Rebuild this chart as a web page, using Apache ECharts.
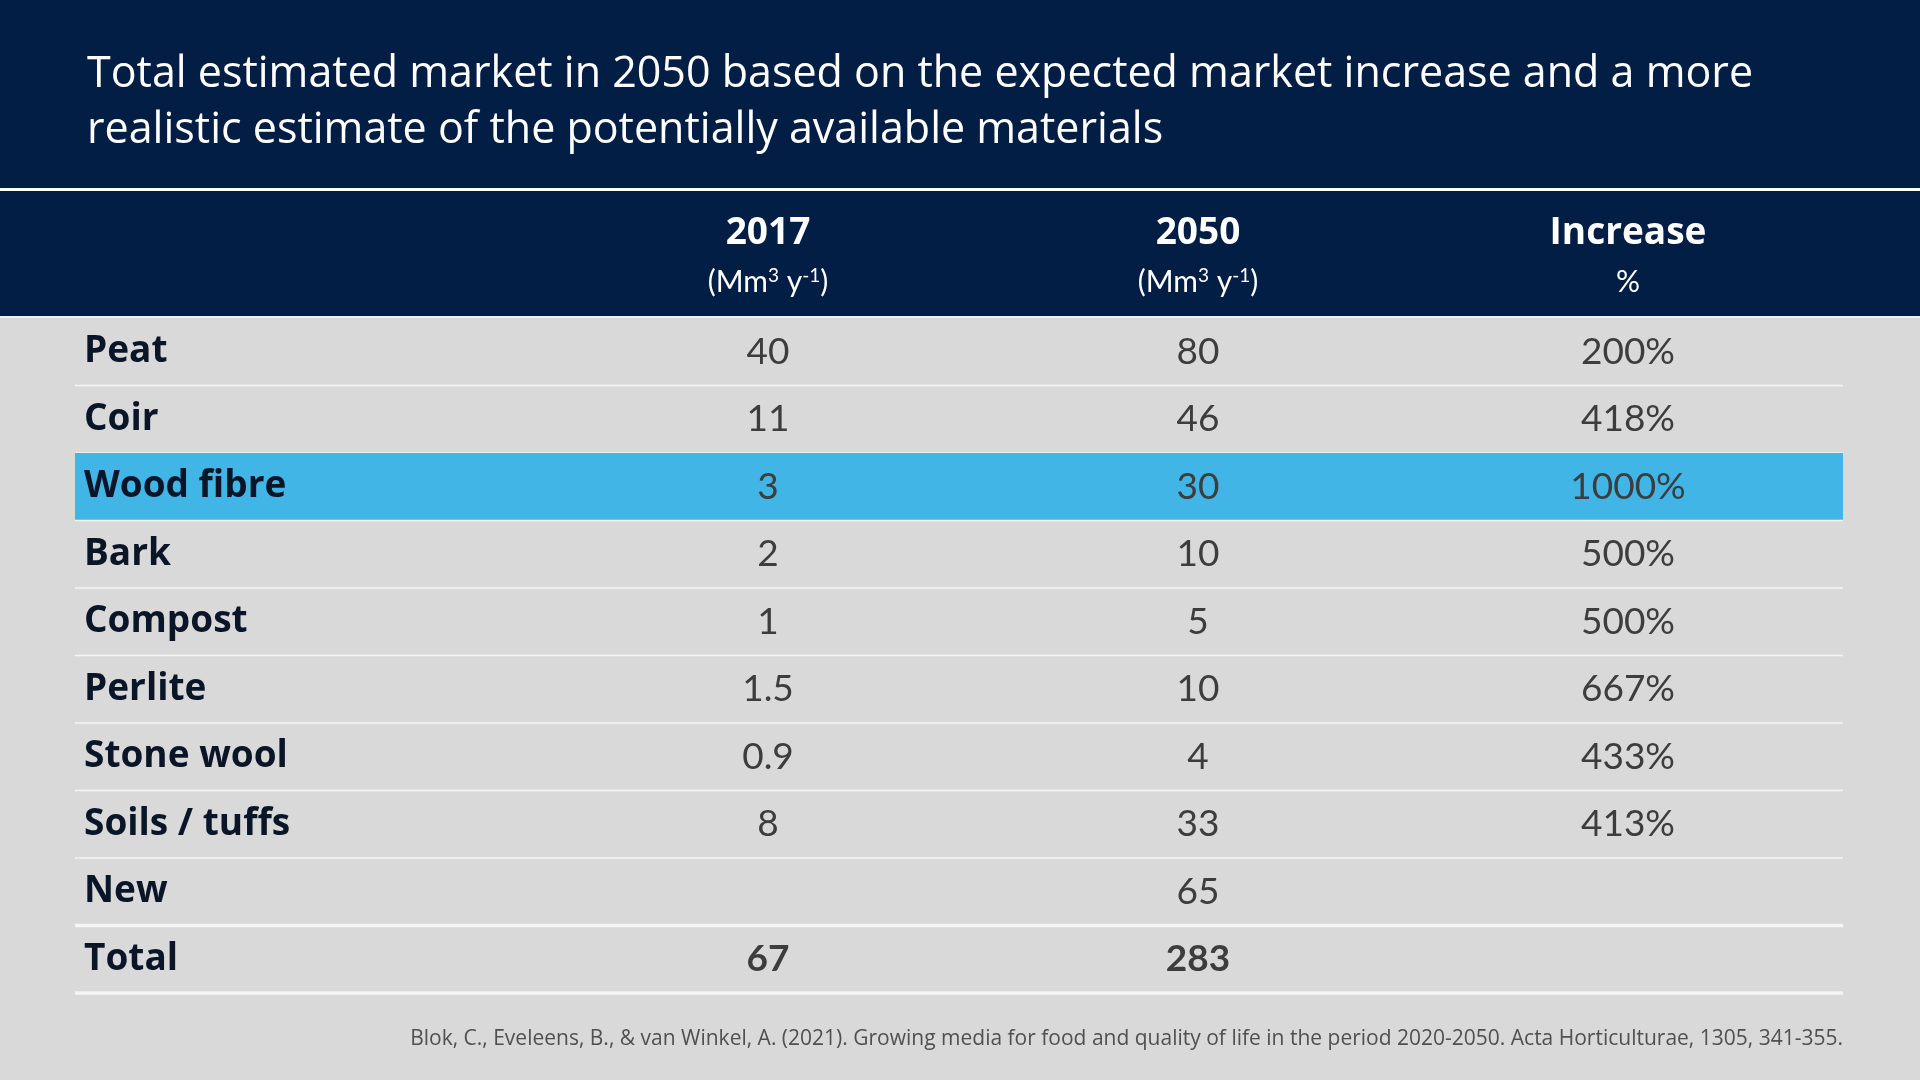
<!DOCTYPE html>
<html lang="en">
<head>
<meta charset="UTF-8">
<title>Growing media market 2017 - 2050</title>
<style>
  html, body { margin: 0; padding: 0; overflow: hidden; background: #d9d9d9; }
  #chart { width: 1920px; height: 1080px; }
</style>
</head>
<body>
<div id="chart"></div>
<script src="https://cdn.jsdelivr.net/npm/echarts@6/dist/echarts.min.js"></script>
<script>
// table data
const materials = ['Peat', 'Coir', 'Wood fibre', 'Bark', 'Compost', 'Perlite', 'Stone wool', 'Soils / tuffs', 'New', 'Total'];
const columns = ['2017', '2050', 'Increase'];
const columnUnits = [
  '{u|(Mm}{sup|3}{u| y}{sup|-1}{u|)}',
  '{u|(Mm}{sup|3}{u| y}{sup|-1}{u|)}',
  '{u|%}'
];
const market2017 = [40, 11, 3, 2, 1, 1.5, 0.9, 8, null, 67];
const market2050 = [80, 46, 30, 10, 5, 10, 4, 33, 65, 283];
const increasePct = [200, 418, 1000, 500, 500, 667, 433, 413, null, null];
const highlightRow = 'Wood fibre';
const totalRow = 'Total';

const titleText = 'Total estimated market in 2050 based on the expected market increase and a more\nrealistic estimate of the potentially available materials';
const sourceText = 'Blok, C., Eveleens, B., & van Winkel, A. (2021). Growing media for food and quality of life in the period 2020-2050. Acta Horticulturae, 1305, 341-355.';

const NAVY = '#031e45';
const FONT = '"Open Sans", Lato, sans-serif';
const NUM_FONT = 'Lato, "Open Sans", sans-serif';

// build the cell list from the arrays
const cells = [];
materials.forEach((m, r) => {
  [market2017[r], market2050[r], increasePct[r]].forEach((v, c) => {
    if (v === null) return;
    cells.push({ value: [c, r], text: c === 2 ? v + '%' : String(v), bold: m === totalRow });
  });
});

const chart = echarts.init(document.getElementById('chart'));

function renderCell(params, api) {
  const cell = cells[params.dataIndex];
  const pt = api.coord([api.value(0), api.value(1)]);
  return {
    type: 'text',
    style: {
      text: cell.text,
      x: pt[0],
      y: pt[1],
      textAlign: 'center',
      textVerticalAlign: 'middle',
      fontFamily: NUM_FONT,
      fontSize: 37,
      fontWeight: cell.bold ? 'bold' : 'normal',
      fill: '#3d3d3d'
    }
  };
}

function renderRow(params, api) {
  const i = api.value(1);
  const cs = params.coordSys;
  const c = api.coord([0, i]);
  const h = api.size([0, 1])[1];
  const top = c[1] - h / 2;
  const bottom = c[1] + h / 2;
  const thick = i >= materials.length - 2;  // lines round the Total row
  const children = [];
  if (materials[i] === highlightRow) {
    children.push({ type: 'rect', shape: { x: cs.x, y: top, width: cs.width, height: h }, style: { fill: '#41b6e6' } });
  }
  children.push({
    type: 'line',
    shape: { x1: cs.x, y1: bottom, x2: cs.x + cs.width, y2: bottom },
    style: { stroke: '#f5f5f5', lineWidth: thick ? 3.5 : 1.5 }
  });
  return { type: 'group', children };
}

chart.setOption({
  backgroundColor: '#d9d9d9',
  animation: false,
  title: [
    {
      text: titleText,
      left: 82,
      top: 42,
      textStyle: { color: '#ffffff', fontFamily: FONT, fontSize: 43, fontWeight: 500, lineHeight: 56 }
    },
    {
      text: sourceText,
      right: 72,
      top: 1024,
      textStyle: { color: '#505050', fontFamily: FONT, fontSize: 21, fontWeight: 'normal' }
    }
  ],
  graphic: [
    { type: 'rect', z: -10, shape: { x: 0, y: 0, width: 1920, height: 317 }, style: { fill: NAVY } },
    { type: 'rect', z: -9, shape: { x: 0, y: 188, width: 1920, height: 3 }, style: { fill: '#ffffff' } },
    { type: 'rect', z: -9, shape: { x: 0, y: 316, width: 1920, height: 2 }, style: { fill: '#eeeeee' } }
  ],
  grid: [
    { left: 553, right: 77, top: 318, bottom: 87 },   // value columns
    { left: 75, right: 77, top: 318, bottom: 87 }     // full-width rows
  ],
  xAxis: [
    {
      type: 'category',
      gridIndex: 0,
      position: 'top',
      data: columns,
      axisLine: { show: false },
      axisTick: { show: false },
      splitLine: { show: false },
      axisLabel: {
        margin: 11,
        formatter: (v, idx) => `{h|${v}}\n${columnUnits[idx]}`,
        rich: {
          h: { color: '#ffffff', fontFamily: FONT, fontSize: 37, fontWeight: 'bold', lineHeight: 47 },
          u: { color: '#ffffff', fontFamily: NUM_FONT, fontSize: 30, lineHeight: 50 },
          sup: { color: '#ffffff', fontFamily: NUM_FONT, fontSize: 19, lineHeight: 19, verticalAlign: 'middle', padding: [0, 0, 13, 0] }
        }
      }
    },
    { type: 'value', gridIndex: 1, min: 0, max: 1, show: false }
  ],
  yAxis: [
    {
      type: 'category',
      gridIndex: 0,
      data: materials,
      inverse: true,
      z: 10,
      axisLine: { show: false },
      axisTick: { show: false },
      splitLine: { show: false },
      axisLabel: {
        align: 'left',
        margin: 469,
        padding: [5, 0, 0, 0],
        color: '#0a1628',
        fontFamily: FONT,
        fontSize: 37,
        fontWeight: 'bold'
      }
    },
    { type: 'category', gridIndex: 1, data: materials, inverse: true, show: false }
  ],
  series: [
    {
      type: 'custom',
      xAxisIndex: 1,
      yAxisIndex: 1,
      z: 1,
      silent: true,
      renderItem: renderRow,
      data: materials.map((m, i) => [0.5, i])
    },
    {
      type: 'custom',
      xAxisIndex: 0,
      yAxisIndex: 0,
      z: 5,
      silent: true,
      renderItem: renderCell,
      data: cells.map(c => c.value)
    }
  ]
});
</script>
</body>
</html>
